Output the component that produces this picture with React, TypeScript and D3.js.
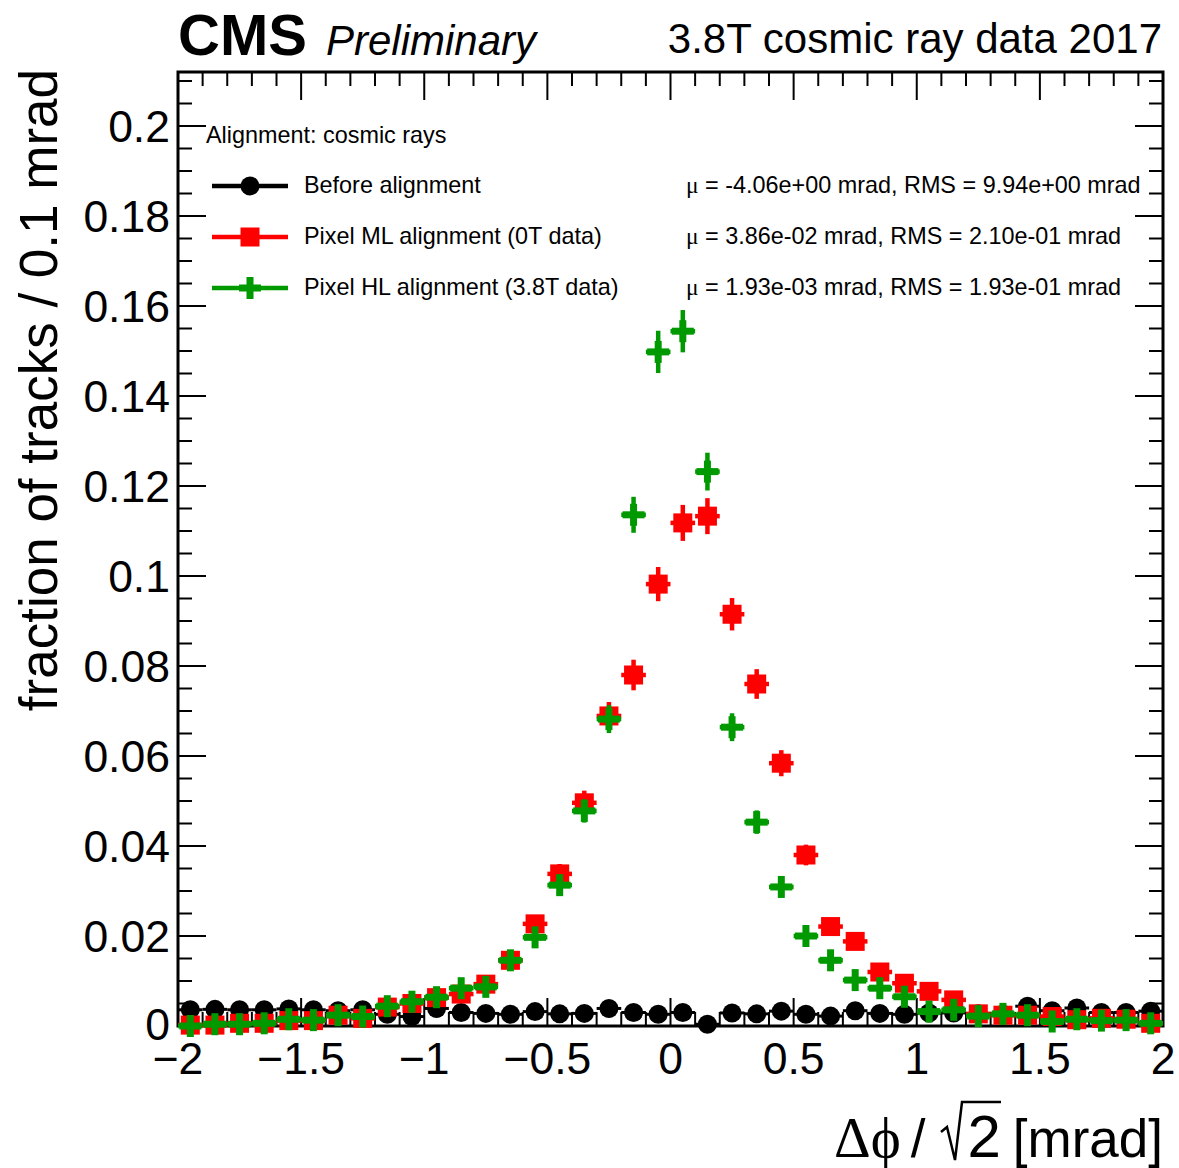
import React from 'react';
import * as d3 from 'd3';

const BIN_CENTERS = [
  -1.95, -1.85, -1.75, -1.65, -1.55, -1.45, -1.35, -1.25, -1.15, -1.05,
  -0.95, -0.85, -0.75, -0.65, -0.55, -0.45, -0.35, -0.25, -0.15, -0.05,
  0.05, 0.15, 0.25, 0.35, 0.45, 0.55, 0.65, 0.75, 0.85, 0.95,
  1.05, 1.15, 1.25, 1.35, 1.45, 1.55, 1.65, 1.75, 1.85, 1.95,
];

const BEFORE = [
  0.0036, 0.0037, 0.0036, 0.0036, 0.0038, 0.0036, 0.0034, 0.0036, 0.0026, 0.0021,
  0.0039, 0.0030, 0.0028, 0.0026, 0.0032, 0.0027, 0.0028, 0.0039, 0.0030, 0.0026,
  0.0030, 0.0004, 0.0029, 0.0027, 0.0033, 0.0026, 0.0022, 0.0034, 0.0028, 0.0026,
  0.0029, 0.0029, 0.0027, 0.0026, 0.0044, 0.0034, 0.0040, 0.0030, 0.0030, 0.0033,
];

const ML = [
  0.0002, 0.0002, 0.0006, 0.0006, 0.0012, 0.0012, 0.0024, 0.0017, 0.0042, 0.0050,
  0.0063, 0.0071, 0.0093, 0.0146, 0.0227, 0.0338, 0.0496, 0.0689, 0.0780, 0.0982,
  0.1118, 0.1133, 0.0915, 0.0760, 0.0584, 0.0380, 0.0221, 0.0188, 0.0120, 0.0095,
  0.0077, 0.0058, 0.0027, 0.0024, 0.0024, 0.0021, 0.0014, 0.0017, 0.0015, 0.0006,
];

const ML_ERR = [
  0.0002, 0.0002, 0.0003, 0.0003, 0.0004, 0.0004, 0.0006, 0.0005, 0.0008, 0.0008,
  0.0010, 0.0010, 0.0012, 0.0015, 0.0018, 0.0022, 0.0027, 0.0031, 0.0034, 0.0038,
  0.0040, 0.0040, 0.0036, 0.0033, 0.0029, 0.0023, 0.0018, 0.0016, 0.0013, 0.0012,
  0.0011, 0.0009, 0.0006, 0.0006, 0.0006, 0.0005, 0.0004, 0.0005, 0.0005, 0.0003,
];

const HL = [
  0.0000, 0.0004, 0.0004, 0.0006, 0.0015, 0.0013, 0.0024, 0.0021, 0.0044, 0.0054,
  0.0064, 0.0084, 0.0087, 0.0146, 0.0197, 0.0313, 0.0478, 0.0682, 0.1136, 0.1498,
  0.1544, 0.1232, 0.0664, 0.0453, 0.0309, 0.0200, 0.0146, 0.0102, 0.0084, 0.0065,
  0.0032, 0.0036, 0.0022, 0.0027, 0.0024, 0.0010, 0.0015, 0.0012, 0.0013, 0.0006,
];

const HL_ERR = [
  0.0000, 0.0002, 0.0002, 0.0003, 0.0005, 0.0004, 0.0006, 0.0006, 0.0008, 0.0009,
  0.0010, 0.0011, 0.0011, 0.0015, 0.0017, 0.0021, 0.0026, 0.0031, 0.0040, 0.0047,
  0.0047, 0.0042, 0.0031, 0.0026, 0.0021, 0.0017, 0.0015, 0.0012, 0.0011, 0.0010,
  0.0007, 0.0007, 0.0006, 0.0006, 0.0006, 0.0004, 0.0004, 0.0004, 0.0004, 0.0003,
];

const X_TICKS = [-2, -1.5, -1, -0.5, 0, 0.5, 1, 1.5, 2];
const X_TICK_LABELS = ['\u22122', '\u22121.5', '\u22121', '\u22120.5', '0', '0.5', '1', '1.5', '2'];
const Y_TICKS = [0, 0.02, 0.04, 0.06, 0.08, 0.1, 0.12, 0.14, 0.16, 0.18, 0.2];
const Y_TICK_LABELS = ['0', '0.02', '0.04', '0.06', '0.08', '0.1', '0.12', '0.14', '0.16', '0.18', '0.2'];

const LEGEND_HEADER = 'Alignment: cosmic rays';
const LEGEND_LABELS = ['Before alignment', 'Pixel ML alignment (0T data)', 'Pixel HL alignment (3.8T data)'];
const STATS = [
  ' = -4.06e+00 mrad, RMS = 9.94e+00 mrad',
  ' = 3.86e-02 mrad, RMS = 2.10e-01 mrad',
  ' = 1.93e-03 mrad, RMS = 1.93e-01 mrad',
];
const COLORS = ['#000000', '#ff0000', '#009a00'];

const SANS = "'Liberation Sans', Arial, Helvetica, sans-serif";
const SERIF = "'Liberation Serif', 'DejaVu Serif', 'Times New Roman', serif";

function Marker({ kind, cx, cy, color }: { kind: number; cx: number; cy: number; color: string }) {
  if (kind === 0) return <circle cx={cx} cy={cy} r={9.5} fill={color} />;
  if (kind === 1) return <rect x={cx - 9.5} y={cy - 9.5} width={19} height={19} fill={color} />;
  return (
    <g fill={color}>
      <rect x={cx - 11} y={cy - 3.5} width={22} height={7} />
      <rect x={cx - 3.5} y={cy - 11} width={7} height={22} />
    </g>
  );
}

export default function App() {
  const W = 1179;
  const H = 1168;
  const L = 178, R = 1163, T = 72, B = 1026;
  const x = d3.scaleLinear().domain([-2, 2]).range([L, R]);
  const y = d3.scaleLinear().domain([0, 0.212]).range([B, T]);
  const half = 0.05;

  const xMinor = d3.range(-20, 21).map((k) => k / 10);
  const yMinor = d3.range(0, 43).map((k) => k * 0.005);
  const isXMajor = (v: number) => Math.abs(v * 2 - Math.round(v * 2)) < 1e-6;
  const isYMajor = (v: number) => Math.abs(v / 0.02 - Math.round(v / 0.02)) < 1e-6;

  const series = [
    { vals: BEFORE, errs: null as number[] | null, kind: 0, bw: 3 },
    { vals: ML, errs: ML_ERR, kind: 1, bw: 4.5 },
    { vals: HL, errs: HL_ERR, kind: 2, bw: 4.5 },
  ];

  const legendRows = [186, 237, 288];
  const legFont = 23.4;

  return (
    <svg
      width={W}
      height={H}
      viewBox={`0 0 ${W} ${H}`}
      style={{ position: 'absolute', left: 0, top: 0, background: '#fff' }}
    >
      <rect x={0} y={0} width={W} height={H} fill="#fff" />

      {/* ticks */}
      <g stroke="#000" strokeWidth={2}>
        {xMinor.map((v, i) => {
          const len = isXMajor(v) ? 28 : 14;
          return (
            <g key={`xt${i}`}>
              <line x1={x(v)} x2={x(v)} y1={B} y2={B - len} />
              <line x1={x(v)} x2={x(v)} y1={T} y2={T + len} />
            </g>
          );
        })}
        {yMinor.filter((v) => y(v) >= T).map((v, i) => {
          const len = isYMajor(v) ? 28 : 14;
          return (
            <g key={`yt${i}`}>
              <line x1={L} x2={L + len} y1={y(v)} y2={y(v)} />
              <line x1={R} x2={R - len} y1={y(v)} y2={y(v)} />
            </g>
          );
        })}
      </g>
      <rect x={L} y={T} width={R - L} height={B - T} fill="none" stroke="#000" strokeWidth={3} />

      {/* tick labels */}
      <g fontFamily={SANS} fontSize={44.5} fill="#000">
        {X_TICKS.map((v, i) => (
          <text key={`xl${i}`} x={x(v)} y={1074} textAnchor="middle">
            {X_TICK_LABELS[i]}
          </text>
        ))}
        {Y_TICKS.map((v, i) => (
          <text key={`yl${i}`} x={170} y={y(v) + (i === 0 ? 14 : 16)} textAnchor="end">
            {Y_TICK_LABELS[i]}
          </text>
        ))}
      </g>

      {/* axis titles */}
      <text
        fontFamily={SANS}
        fontSize={53}
        textAnchor="end"
        transform={`translate(57, 69) rotate(-90)`}
      >
        fraction of tracks / 0.1 mrad
      </text>
      <g fill="#000">
        <text x={834} y={1157} fontFamily={SERIF} fontSize={57}>
          {'\u0394\u03D5'}
          <tspan fontFamily={SANS} fontSize={53} dx={10}>/</tspan>
        </text>
        <path d="M 941 1132 L 947 1127 L 955 1160 L 962 1102 L 1001 1102" fill="none" stroke="#000" strokeWidth={2.5} />
        <text x={1163} y={1157} fontFamily={SANS} fontSize={53} textAnchor="end">
          <tspan fontSize={60}>2</tspan>
          <tspan dx={12}>[mrad]</tspan>
        </text>
      </g>

      {/* titles */}
      <text x={178} y={55} fontFamily={SANS} fontSize={58} fontWeight="bold">CMS</text>
      <text x={326} y={55} fontFamily={SANS} fontSize={42} fontStyle="italic">Preliminary</text>
      <text x={1162} y={53} fontFamily={SANS} fontSize={42} textAnchor="end">3.8T cosmic ray data 2017</text>

      {/* data */}
      {series.map((s, si) => (
        <g key={`s${si}`}>
          {s.vals.map((v, i) => {
            const c = BIN_CENTERS[i];
            const cx = x(c);
            const cy = y(v);
            const e = s.errs ? s.errs[i] : 0;
            return (
              <g key={`p${si}-${i}`}>
                <line x1={x(c - half)} x2={x(c + half)} y1={cy} y2={cy} stroke={COLORS[si]} strokeWidth={s.bw} />
                {e > 0 && (
                  <line x1={cx} x2={cx} y1={y(v - e)} y2={y(v + e)} stroke={COLORS[si]} strokeWidth={s.bw} />
                )}
                <Marker kind={s.kind} cx={cx} cy={cy} color={COLORS[si]} />
              </g>
            );
          })}
        </g>
      ))}

      {/* legend */}
      <text x={206} y={143} fontFamily={SANS} fontSize={legFont}>{LEGEND_HEADER}</text>
      {LEGEND_LABELS.map((lab, i) => (
        <g key={`lg${i}`}>
          <line x1={212} x2={288} y1={legendRows[i]} y2={legendRows[i]} stroke={COLORS[i]} strokeWidth={4.5} />
          <Marker kind={i} cx={250} cy={legendRows[i]} color={COLORS[i]} />
          <text x={304} y={legendRows[i] + 7} fontFamily={SANS} fontSize={legFont}>{lab}</text>
          <text x={686} y={legendRows[i] + 7} fontFamily={SANS} fontSize={legFont}>
            <tspan fontFamily={SERIF}>{'\u03BC'}</tspan>
            {STATS[i]}
          </text>
        </g>
      ))}
    </svg>
  );
}
